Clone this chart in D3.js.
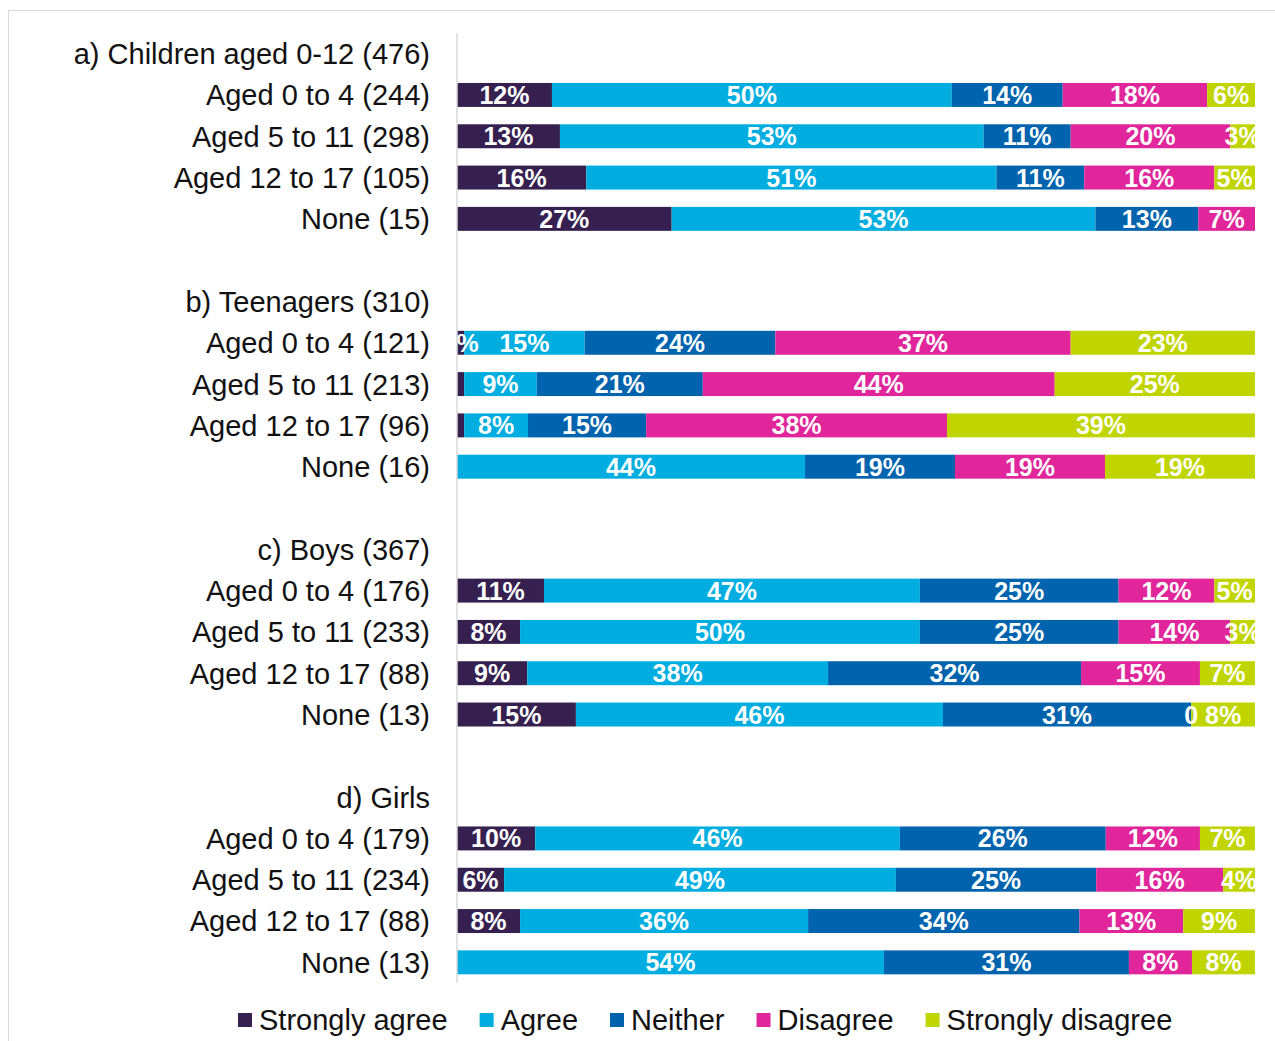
<!DOCTYPE html>
<html><head><meta charset="utf-8">
<script src="https://cdn.jsdelivr.net/npm/d3@7"></script>
<style>body{margin:0;background:#fff}svg{display:block}</style>
</head><body>
<svg id="chart" width="1275" height="1041"></svg>
<script>
const groupNames = ["a) Children aged 0-12 (476)", "b) Teenagers (310)", "c) Boys (367)", "d) Girls"];
const rowLabels = [
  ["Aged 0 to 4 (244)", "Aged 5 to 11 (298)", "Aged 12 to 17 (105)", "None (15)"],
  ["Aged 0 to 4 (121)", "Aged 5 to 11 (213)", "Aged 12 to 17 (96)", "None (16)"],
  ["Aged 0 to 4 (176)", "Aged 5 to 11 (233)", "Aged 12 to 17 (88)", "None (13)"],
  ["Aged 0 to 4 (179)", "Aged 5 to 11 (234)", "Aged 12 to 17 (88)", "None (13)"]
];
const seriesNames = ["Strongly agree", "Agree", "Neither", "Disagree", "Strongly disagree"];
const seriesColors = ["#35204f", "#00ade0", "#0063ad", "#e0269a", "#c0d500"];
const stronglyAgree    = [11.9, 12.9, 16.2, 26.9,  0.9,  0.9,  0.9,  0.0, 10.9,  7.9,  8.8, 14.9,  9.8,  5.9,  7.9,  0.0];
const agree            = [50.1, 53.1, 51.4, 53.1, 15.1,  9.1,  8.0, 43.6, 47.1, 50.1, 37.7, 46.0, 45.7, 49.1, 36.1, 53.5];
const neither          = [13.9, 10.9, 11.0, 12.9, 23.9, 20.8, 14.8, 18.8, 24.9, 24.9, 31.7, 31.1, 25.8, 25.1, 34.0, 30.7];
const disagree         = [18.1, 20.0, 16.3,  7.1, 37.0, 44.1, 37.7, 18.8, 12.0, 14.0, 14.9,  0.0, 11.8, 15.9, 13.0,  7.9];
const stronglyDisagree = [ 6.0,  3.1,  5.1,  0.0, 23.1, 25.1, 38.6, 18.8,  5.1,  3.1,  6.9,  8.0,  6.9,  4.0,  9.0,  7.9];
// labels that differ from the rounded value: [barIndex, seriesIndex, text]
const labelOverrides = [[5, 0, ""], [6, 0, ""], [11, 3, "0"]];

const seriesValues = [stronglyAgree, agree, neither, disagree, stronglyDisagree];

// build row list: heading, 4 bars, blank, ...
const rows = [];
let barIdx = 0;
groupNames.forEach((g, gi) => {
  rows.push({key: "h" + gi, label: g, bar: null});
  rowLabels[gi].forEach((l, li) => {
    rows.push({key: "r" + gi + "_" + li, label: l, bar: barIdx++});
  });
  if (gi < groupNames.length - 1) rows.push({key: "b" + gi, label: "", bar: null});
});

const svg = d3.select("#chart");
const font = "'Liberation Sans', Arial, Helvetica, sans-serif";

// frame
svg.append("rect").attr("x", 8.5).attr("y", 10.5).attr("width", 1300).attr("height", 1100)
  .attr("fill", "none").attr("stroke", "#d9d9d9").attr("stroke-width", 1);

const x = d3.scaleLinear().domain([0, 100]).range([457, 1255]);
const y = d3.scaleBand().domain(rows.map(r => r.key)).range([33, 983]).paddingInner(0.42).paddingOuter(0.21);

svg.append("defs").append("clipPath").attr("id", "plotclip")
  .append("rect").attr("x", x(0)).attr("y", 0).attr("width", x(100) - x(0)).attr("height", 1041);

// category labels
svg.append("g").selectAll("text").data(rows.filter(r => r.label)).join("text")
  .attr("x", 430).attr("y", r => y(r.key) + y.bandwidth() / 2)
  .attr("dy", "0.36em").attr("text-anchor", "end")
  .attr("font-family", font).attr("font-size", 29).attr("fill", "#111")
  .text(r => r.label);

// stacked segments
const segs = [];
rows.filter(r => r.bar !== null).forEach(r => {
  let acc = 0;
  seriesValues.forEach((vals, si) => {
    const v = vals[r.bar];
    let lab = v > 0 ? Math.round(v) + "%" : "";
    labelOverrides.forEach(o => { if (o[0] === r.bar && o[1] === si) lab = o[2]; });
    segs.push({row: r.key, si, x0: acc, x1: acc + v, label: lab});
    acc += v;
  });
});

svg.append("g").selectAll("rect").data(segs.filter(s => s.x1 > s.x0)).join("rect")
  .attr("x", s => x(s.x0)).attr("width", s => x(s.x1) - x(s.x0))
  .attr("y", s => y(s.row)).attr("height", y.bandwidth())
  .attr("fill", s => seriesColors[s.si]);

svg.append("g").attr("clip-path", "url(#plotclip)")
  .selectAll("text").data(segs.filter(s => s.label)).join("text")
  .attr("x", s => (x(s.x0) + x(s.x1)) / 2).attr("y", s => y(s.row) + y.bandwidth() / 2)
  .attr("dy", "0.36em").attr("text-anchor", "middle")
  .attr("font-family", font).attr("font-size", 25).attr("font-weight", "bold").attr("fill", "#fff")
  .text(s => s.label);

// vertical axis line
svg.append("line").attr("x1", x(0)).attr("x2", x(0)).attr("y1", 33).attr("y2", 983)
  .attr("stroke", "#d9d9d9").attr("stroke-width", 1.5);

// legend
const lg = svg.append("g");
let lx = 238;
seriesNames.forEach((n, i) => {
  lg.append("rect").attr("x", lx).attr("y", 1013).attr("width", 14).attr("height", 14).attr("fill", seriesColors[i]);
  const t = lg.append("text").attr("x", lx + 21).attr("y", 1030)
    .attr("font-family", font).attr("font-size", 29).attr("fill", "#111").text(n);
  lx += 21 + t.node().getComputedTextLength() + 32;
});
</script>
</body></html>
